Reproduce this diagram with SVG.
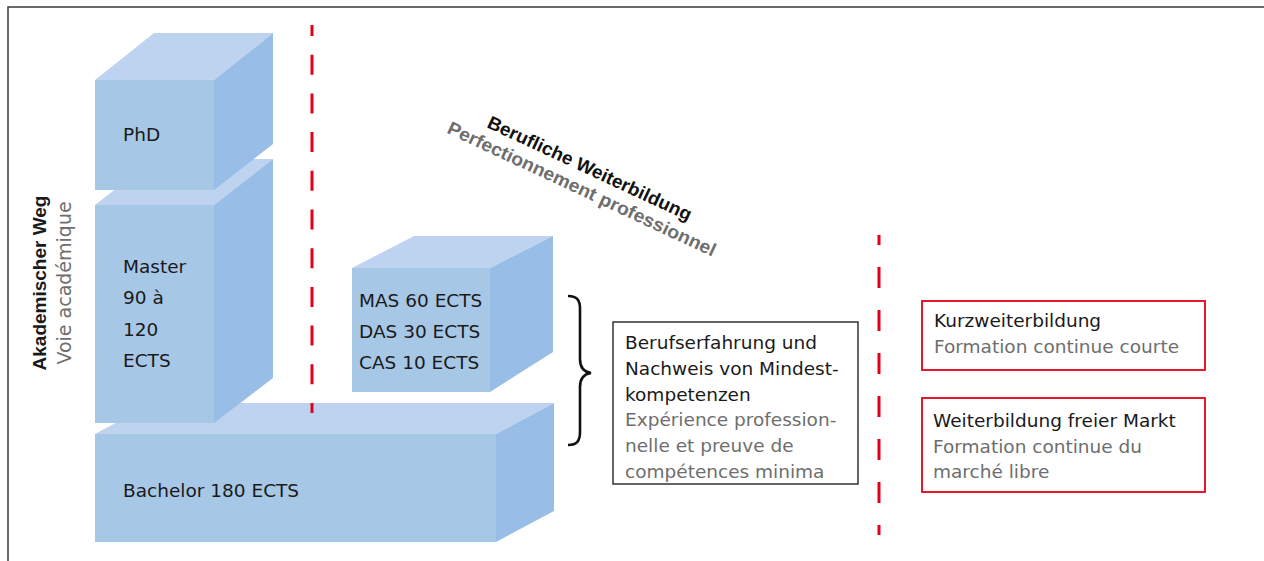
<svg xmlns="http://www.w3.org/2000/svg" width="1264" height="561" viewBox="0 0 1264 561">
<style>
.front{fill:#a7c7e6}
.top{fill:#bed3ef}
.side{fill:#98bde6}
.t{font-family:"DejaVu Sans",sans-serif;font-size:18.5px;fill:#1a1a1a}
.g{font-family:"DejaVu Sans",sans-serif;font-size:18.5px;fill:#6e6e6e}
.hb{font-family:"Liberation Sans",Arial,sans-serif;font-weight:bold;font-size:18.5px}
.red{stroke:#e2001a;stroke-width:3;fill:none}
.rbox{fill:#fff;stroke:#e2001a;stroke-width:1.8}
</style>
<rect x="0" y="0" width="1264" height="561" fill="#fff"/>
<path d="M8,561 L8,7 L1264,7" fill="none" stroke="#3a3a3a" stroke-width="1.5"/>

<g id="bachelor">
<polygon class="top" points="95,434 153,403 554,403 496,434"/>
<polygon class="side" points="496,434 554,403 554,511 496,542"/>
<rect class="front" x="95" y="434" width="401" height="108"/>
<text class="t" x="123" y="497">Bachelor 180 ECTS</text>
</g>

<g id="master">
<polygon class="top" points="95,205 154,159 273,159 214,205"/>
<polygon class="side" points="214,205 273,159 273,378 214,423"/>
<rect class="front" x="95" y="205" width="119" height="218"/>
<text class="t" x="123" y="273">Master</text>
<text class="t" x="123" y="304">90 à</text>
<text class="t" x="123" y="336">120</text>
<text class="t" x="123" y="367">ECTS</text>
</g>

<g id="phd">
<polygon class="top" points="95,80 154,33 273,33 214,80"/>
<polygon class="side" points="214,80 273,33 273,144 214,190"/>
<rect class="front" x="95" y="80" width="119" height="110"/>
<text class="t" x="123" y="141">PhD</text>
</g>

<g id="mas">
<polygon class="top" points="352,268 414,236 553,236 490,268"/>
<polygon class="side" points="490,268 553,236 553,352 490,392"/>
<rect class="front" x="352" y="268" width="138" height="124"/>
<text class="t" x="359" y="307">MAS 60 ECTS</text>
<text class="t" x="359" y="338">DAS 30 ECTS</text>
<text class="t" x="359" y="369">CAS 10 ECTS</text>
</g>

<g id="label-akademisch">
<text class="hb" fill="#1a1a1a" transform="translate(46,283) rotate(-90)" text-anchor="middle" style="font-size:19px">Akademischer Weg</text>
<text class="g" transform="translate(71,283) rotate(-90)" text-anchor="middle" style="font-size:19px">Voie académique</text>
</g>

<g id="label-beruflich" transform="translate(486,127) rotate(25)">
<text class="hb" x="0" y="0" fill="#111" textLength="223" lengthAdjust="spacingAndGlyphs">Berufliche Weiterbildung</text>
<text class="hb" x="-34" y="22" fill="#6e6e6e" textLength="294" lengthAdjust="spacingAndGlyphs">Perfectionnement professionnel</text>
</g>

<g id="anforderungen">
<rect x="613" y="322" width="245" height="162" fill="#fff" stroke="#333" stroke-width="1.5"/>
<text class="t" x="625" y="349">Berufserfahrung und</text>
<text class="t" x="625" y="375">Nachweis von Mindest-</text>
<text class="t" x="625" y="401">kompetenzen</text>
<text class="g" x="625" y="426">Expérience profession-</text>
<text class="g" x="625" y="452">nelle et preuve de</text>
<text class="g" x="625" y="478">compétences minima</text>
</g>

<g id="kurz">
<rect class="rbox" x="922" y="301" width="283" height="69"/>
<text class="t" x="934" y="327">Kurzweiterbildung</text>
<text class="g" x="934" y="353">Formation continue courte</text>
</g>

<g id="freier-markt">
<rect class="rbox" x="922" y="398" width="283" height="94"/>
<text class="t" x="933" y="427">Weiterbildung freier Markt</text>
<text class="g" x="933" y="453">Formation continue du</text>
<text class="g" x="933" y="478">marché libre</text>
</g>

<g id="connectors">
<line class="red" x1="312" y1="25" x2="312" y2="413" stroke-dasharray="20 18.7" stroke-dashoffset="9"/>
<line class="red" x1="879" y1="235" x2="879" y2="535" stroke-dasharray="21 22" stroke-dashoffset="11"/>
<path d="M568,296 C577,296 580,300 580,309 L580,359 C580,367 584,372 591,373 C584,374 580,379 580,387 L580,432 C580,441 577,445 568,445" fill="none" stroke="#111" stroke-width="2.6"/>
</g>
</svg>
